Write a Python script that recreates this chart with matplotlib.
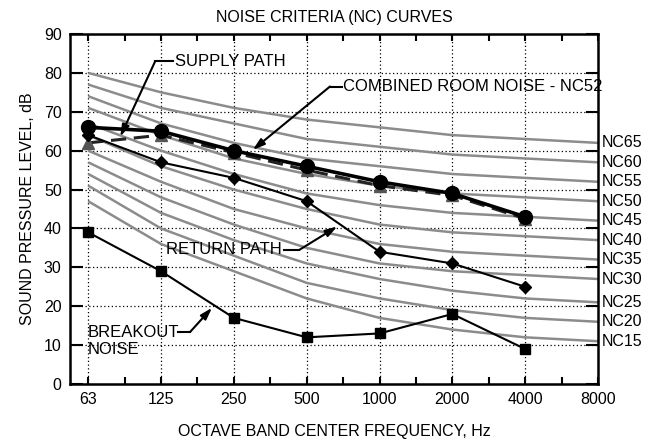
import matplotlib
matplotlib.use("Agg")
import matplotlib.pyplot as plt
import numpy as np

plt.rcParams["font.family"] = ["Liberation Sans", "DejaVu Sans"]

# Octave band centre frequencies (Hz)
freqs = ["63", "125", "250", "500", "1000", "2000", "4000", "8000"]

# Noise Criteria curves, sound pressure level (dB) per octave band
nc15 = [47, 36, 29, 22, 17, 14, 12, 11]
nc20 = [51, 40, 33, 26, 22, 19, 17, 16]
nc25 = [54, 44, 37, 31, 27, 24, 22, 21]
nc30 = [57, 48, 41, 35, 31, 29, 28, 27]
nc35 = [60, 52, 45, 40, 36, 34, 33, 32]
nc40 = [64, 56, 50, 45, 41, 39, 38, 37]
nc45 = [67, 60, 54, 49, 46, 44, 43, 42]
nc50 = [71, 64, 58, 54, 51, 49, 48, 47]
nc55 = [74, 67, 62, 58, 56, 54, 53, 52]
nc60 = [77, 71, 67, 63, 61, 59, 58, 57]
nc65 = [80, 75, 71, 68, 66, 64, 63, 62]
nc_names = ["NC15", "NC20", "NC25", "NC30", "NC35", "NC40",
            "NC45", "NC50", "NC55", "NC60", "NC65"]

# Measured / predicted spectra, 63 Hz .. 4000 Hz
combined = [66, 65, 60, 56, 52, 49, 43]
supply = [62, 64, 59.5, 55, 51, 48.5, 42.5]
return_path = [64, 57, 53, 47, 34, 31, 25]
breakout = [39, 29, 17, 12, 13, 18, 9]

fig = plt.figure(figsize=(6.6, 4.4), dpi=100)
ax = fig.add_axes([70 / 660, 1 - 384 / 440, 528 / 660, 350 / 440])

xi = np.arange(len(freqs))
xs = xi[:len(combined)]

# NC reference curves
nc_curves = [nc15, nc20, nc25, nc30, nc35, nc40, nc45, nc50, nc55, nc60, nc65]
for name, curve in zip(nc_names, nc_curves):
    ax.plot(xi, curve, color="#8c8c8c", lw=1.8, zorder=2, solid_capstyle="butt")
    ax.text(1.008, curve[-1], name, transform=ax.get_yaxis_transform(),
            ha="left", va="center", fontsize=11.5, clip_on=False)

# Spectra
ax.plot(xs, breakout, color="black", lw=1.5, marker="s", ms=7, zorder=5)
ax.plot(xs, return_path, color="black", lw=1.5, marker="D", ms=6, zorder=5)
ax.plot(xs, supply, color="#222222", lw=2.2, ls=(0, (5, 2.5)), marker="^", ms=8,
        mfc="#555555", mec="#555555", zorder=4)
ax.plot(xs, combined, color="black", lw=2.6, marker="o", ms=10, zorder=6)


def callout(label, text_xy, ha, va, start, knee, target):
    ax.text(*text_xy, label, ha=ha, va=va, fontsize=12, zorder=8,
            linespacing=1.15)
    ax.plot([start[0], knee[0]], [start[1], knee[1]], color="black", lw=1.5, zorder=8)
    ax.annotate("", xy=target, xytext=knee, zorder=8,
                arrowprops=dict(arrowstyle="-|>,head_length=0.7,head_width=0.22",
                                color="black", lw=1.5, shrinkA=0, shrinkB=0))


callout("SUPPLY PATH", (1.19, 83.0), "left", "center",
        (1.16, 83.0), (0.92, 83.0), (0.44, 63.6))
callout("COMBINED ROOM NOISE - NC52", (3.50, 76.5), "left", "center",
        (3.48, 76.5), (3.32, 76.5), (2.26, 60.2))
callout("RETURN PATH", (2.66, 34.5), "right", "center",
        (2.69, 34.5), (2.90, 34.5), (3.42, 40.5))
callout("BREAKOUT\nNOISE", (-0.01, 11.0), "left", "center",
        (1.23, 13.4), (1.40, 13.4), (1.70, 19.6))

ax.set_xticks(xi)
ax.set_xticklabels(freqs)
ax.set_xticks(xi[:-1] + 0.5, minor=True)
ax.set_yticks(np.arange(0, 91, 10))
ax.set_xlim(-0.25, 7)
ax.set_ylim(0, 90)

ax.grid(True, which="major", color="black", ls=(0, (1, 2)), lw=0.9)
ax.set_axisbelow(True)

ax.tick_params(axis="both", which="both", direction="in", top=True, right=True,
               labelsize=11.5, width=1.5, pad=6)
ax.tick_params(axis="y", which="major", length=9)
ax.tick_params(axis="x", which="major", length=5)
ax.tick_params(axis="x", which="minor", length=5)
for s in ax.spines.values():
    s.set_linewidth(1.8)

ax.set_title("NOISE CRITERIA (NC) CURVES", fontsize=11.5, pad=9)
ax.set_xlabel("OCTAVE BAND CENTER FREQUENCY, Hz", fontsize=11.5, labelpad=12)
fig.text(28 / 660, 1 - 209 / 440, "SOUND PRESSURE LEVEL, dB", rotation=90,
         ha="center", va="center", fontsize=11.5)

fig.savefig("out.png", dpi=100)
